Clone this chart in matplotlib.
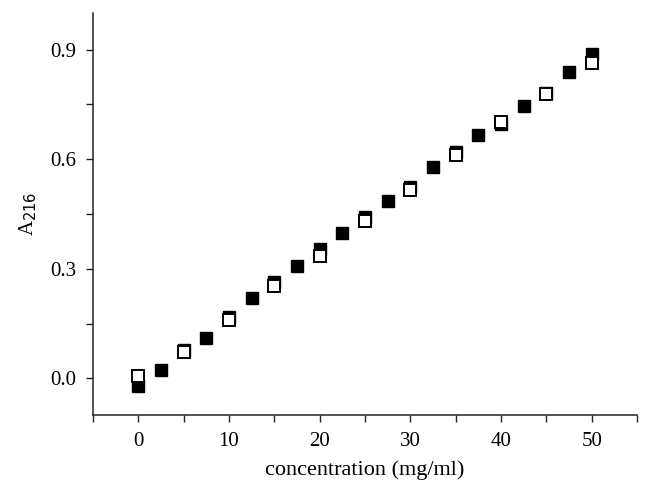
import numpy as np
import matplotlib
matplotlib.use('Agg')
import matplotlib.pyplot as plt
from matplotlib.ticker import MultipleLocator

# filled squares: every 2.5 mg/ml
conc_filled = [0, 2.5, 5, 7.5, 10, 12.5, 15, 17.5, 20, 22.5, 25,
               27.5, 30, 32.5, 35, 37.5, 40, 42.5, 45, 47.5, 50]
abs_filled = [-0.021, 0.023, 0.079, 0.112, 0.168, 0.219, 0.263, 0.309, 0.355, 0.398, 0.443,
              0.485, 0.525, 0.578, 0.621, 0.665, 0.697, 0.745, 0.782, 0.839, 0.888]
# open squares: every 5 mg/ml
conc_open = [0, 5, 10, 15, 20, 25, 30, 35, 40, 45, 50]
abs_open = [0.008, 0.072, 0.159, 0.252, 0.336, 0.432, 0.515, 0.611, 0.702, 0.779, 0.863]

plt.rcParams['font.family'] = ['Liberation Serif', 'DejaVu Serif']

fig = plt.figure(figsize=(6.49, 5.0), dpi=100)
ax = fig.add_axes([0.1433, 0.17, 0.8382, 0.804])

ax.plot(conc_filled, abs_filled, 's', color='black', markersize=8.6,
        markeredgewidth=1.0, zorder=3)
ax.plot(conc_open, abs_open, 's', markerfacecolor='white', markeredgecolor='black',
        markersize=8.6, markeredgewidth=1.4, zorder=4)

ax.set_xlim(-5, 55)
ax.set_ylim(-0.1, 1.0)
ax.xaxis.set_major_locator(MultipleLocator(10))
ax.xaxis.set_minor_locator(MultipleLocator(5))
ax.yaxis.set_major_locator(MultipleLocator(0.3))
ax.yaxis.set_minor_locator(MultipleLocator(0.15))
ax.set_yticks([0.0, 0.3, 0.6, 0.9])
ax.set_yticklabels(['0.0', '0.3', '0.6', '0.9'])

ax.spines['top'].set_visible(False)
ax.spines['right'].set_visible(False)
for s in ['left', 'bottom']:
    ax.spines[s].set_linewidth(1.1)
    ax.spines[s].set_color('#222222')

ax.tick_params(which='both', direction='out', width=1.0, colors='#222222',
               labelsize=15, labelcolor='black')
ax.tick_params(which='major', length=5, pad=7)
ax.tick_params(which='minor', length=5)

ax.set_xlabel('concentration (mg/ml)', fontsize=16, labelpad=7)
ax.set_ylabel('A$_{216}$', fontsize=15, labelpad=8)

fig.savefig('out.png', dpi=100)
